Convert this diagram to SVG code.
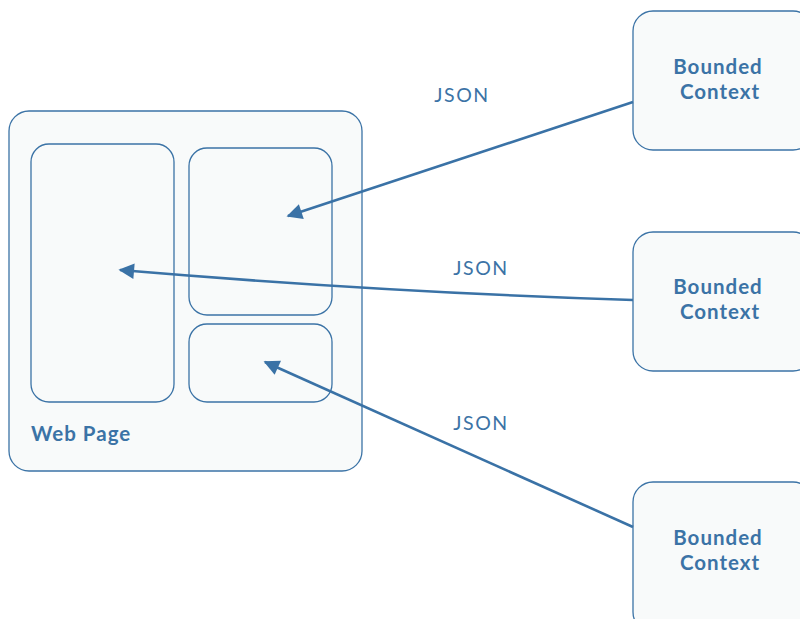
<svg xmlns="http://www.w3.org/2000/svg" width="800" height="619" viewBox="0 0 800 619">
<style>
.box{fill:#f8fafa;stroke:#3b73a6;stroke-width:1.3}
.lbl{font-family:"Lato","Liberation Sans",sans-serif;font-weight:bold;font-size:20.5px;letter-spacing:1px;fill:#3b73a6}
.json{font-family:"Lato","Liberation Sans",sans-serif;font-size:19.5px;letter-spacing:1.6px;fill:#3b73a6}
.conn{fill:none;stroke:#3a72a6;stroke-width:2.6}
</style>
<defs>
<marker id="ah" viewBox="0 0 10 10" refX="9" refY="5" markerWidth="6.5" markerHeight="6" markerUnits="strokeWidth" orient="auto">
<path d="M0,0 L10,5 L0,10 Z" fill="#3a72a6"/>
</marker>
</defs>
<rect width="800" height="619" fill="#ffffff"/>
<g id="webpage">
<rect class="box" x="9" y="111" width="353" height="360" rx="20"/>
<text class="lbl" x="31" y="441">Web Page</text>
</g>
<g id="panel-left"><rect class="box" x="31" y="144" width="143" height="258" rx="18"/></g>
<g id="panel-top-right"><rect class="box" x="189" y="148" width="143" height="167" rx="18"/></g>
<g id="panel-bottom-right"><rect class="box" x="189" y="324" width="143" height="78" rx="18"/></g>
<g id="bc1">
<rect class="box" x="633" y="11" width="180" height="139" rx="20"/>
<text class="lbl" x="718" y="74" text-anchor="middle">Bounded</text>
<text class="lbl" x="720" y="99" text-anchor="middle">Context</text>
</g>
<g id="bc2">
<rect class="box" x="633" y="232" width="180" height="139" rx="20"/>
<text class="lbl" x="718" y="294" text-anchor="middle">Bounded</text>
<text class="lbl" x="720" y="319" text-anchor="middle">Context</text>
</g>
<g id="bc3">
<rect class="box" x="633" y="482" width="180" height="150" rx="20"/>
<text class="lbl" x="718" y="545" text-anchor="middle">Bounded</text>
<text class="lbl" x="720" y="570" text-anchor="middle">Context</text>
</g>
<g id="connectors">
<path class="conn" marker-end="url(#ah)" d="M633,102 L288,216"/>
<path class="conn" marker-end="url(#ah)" d="M633,300 Q380,292 120,270"/>
<path class="conn" marker-end="url(#ah)" d="M633,527 L265,362"/>
<text class="json" x="462" y="102" text-anchor="middle">JSON</text>
<text class="json" x="481" y="275" text-anchor="middle">JSON</text>
<text class="json" x="481" y="430" text-anchor="middle">JSON</text>
</g>
</svg>
